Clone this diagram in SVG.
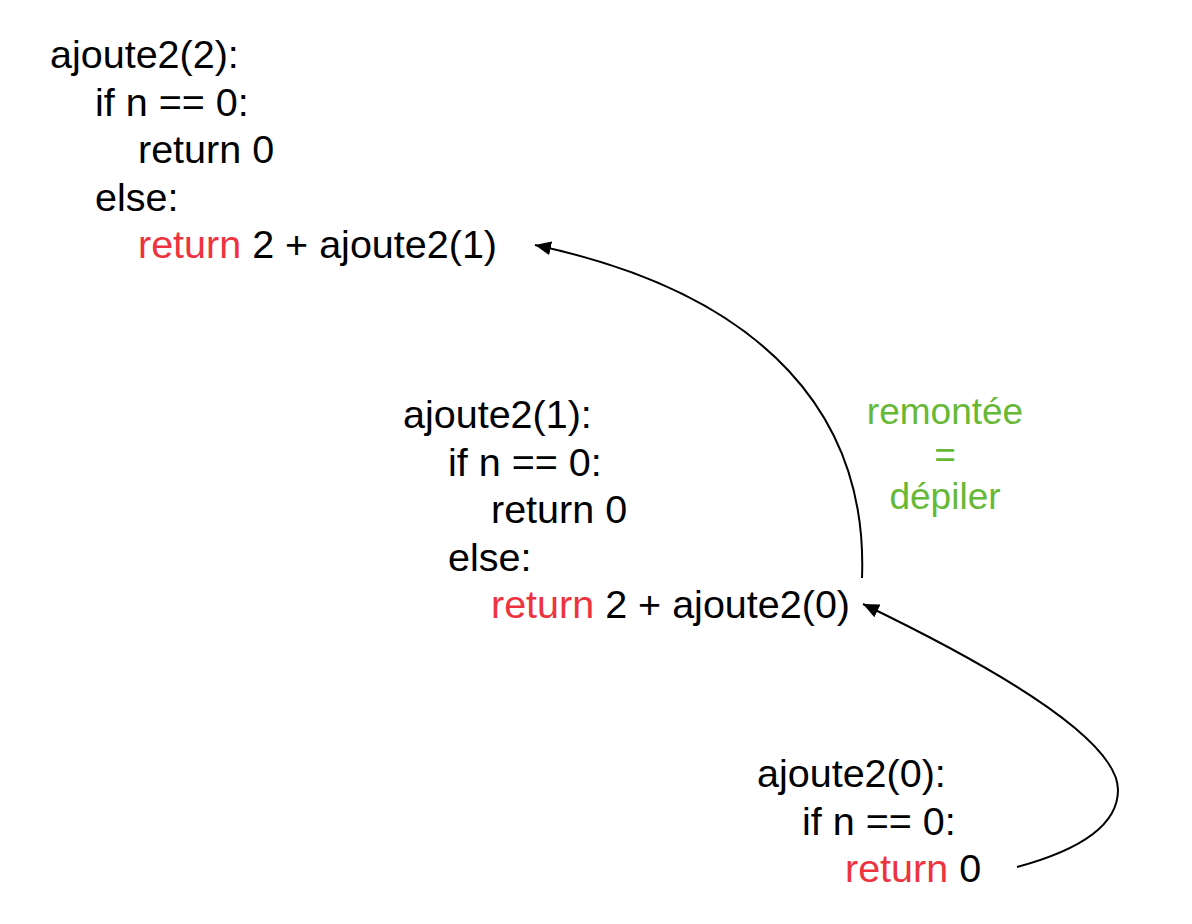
<svg xmlns="http://www.w3.org/2000/svg" width="1192" height="924" viewBox="0 0 1192 924">
<style>
  .code { font-family: "Liberation Sans", Arial, Helvetica, sans-serif; font-size: 39.5px; fill: #000; }
  .kw { fill: #EE3340; }
  .note { font-family: "Liberation Sans", Arial, Helvetica, sans-serif; font-size: 37px; fill: #66B936; text-anchor: middle; }
  .edge { fill: none; stroke: #000; stroke-width: 2; }
</style>
<defs>
  <marker id="arrow" markerUnits="userSpaceOnUse" markerWidth="18" markerHeight="14" refX="16" refY="7" orient="auto">
    <path d="M0,0 L16,7 L0,14 Z" fill="#000"/>
  </marker>
</defs>
<rect width="1192" height="924" fill="#fff"/>
<g id="call2">
  <text class="code" x="50" y="68">ajoute2(2):</text>
  <text class="code" x="95" y="115.5">if n == 0:</text>
  <text class="code" x="138" y="163">return 0</text>
  <text class="code" x="95" y="210.5">else:</text>
  <text class="code" x="138" y="258"><tspan class="kw">return</tspan> 2 + ajoute2(1)</text>
</g>
<g id="call1">
  <text class="code" x="403" y="428">ajoute2(1):</text>
  <text class="code" x="448" y="475.5">if n == 0:</text>
  <text class="code" x="491" y="523">return 0</text>
  <text class="code" x="448" y="570.5">else:</text>
  <text class="code" x="491" y="618"><tspan class="kw">return</tspan> 2 + ajoute2(0)</text>
</g>
<g id="call0">
  <text class="code" x="757" y="787">ajoute2(0):</text>
  <text class="code" x="802" y="834.5">if n == 0:</text>
  <text class="code" x="845" y="882"><tspan class="kw">return</tspan> 0</text>
</g>
<g id="label">
  <text class="note" x="945" y="424">remontée</text>
  <text class="note" x="945" y="466.5">=</text>
  <text class="note" x="945" y="509">dépiler</text>
</g>
<g id="connectors">
  <path class="edge" marker-end="url(#arrow)" d="M 862 578 C 868 420, 770 295, 535 245"/>
  <path class="edge" marker-end="url(#arrow)" d="M 1017 867 C 1080 850, 1118 825, 1118 790 C 1118 740, 1000 670, 863 604"/>
</g>
</svg>
